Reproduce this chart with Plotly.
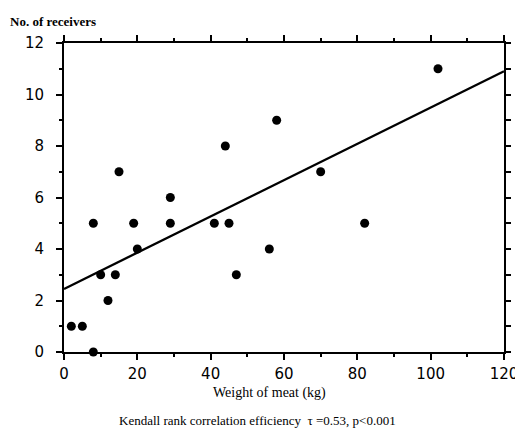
import plotly.graph_objects as go

# Data
meat_kg = [2, 5, 8, 8, 10, 12, 14, 15, 19, 20, 29, 29, 41, 44, 45, 47, 56, 58, 70, 82, 102]
receivers = [1, 1, 0, 5, 3, 2, 3, 7, 5, 4, 6, 5, 5, 8, 5, 3, 4, 9, 7, 5, 11]
fit_x = [0, 120]
fit_y = [2.45, 10.9]
x_ticks = [0, 20, 40, 60, 80, 100, 120]
x_minor = [0, 10, 20, 30, 40, 50, 60, 70, 80, 90, 100, 110, 120]
y_ticks = [0, 2, 4, 6, 8, 10, 12]
y_minor = [0, 1, 2, 3, 4, 5, 6, 7, 8, 9, 10, 11, 12]

fig = go.Figure()
fig.add_trace(go.Scatter(x=fit_x, y=fit_y, mode="lines",
                         line=dict(color="black", width=2.3), showlegend=False))
fig.add_trace(go.Scatter(x=meat_kg, y=receivers, mode="markers",
                         marker=dict(color="black", size=9), showlegend=False,
                         cliponaxis=False))
# invisible trace to anchor the mirrored tick axes (top/right)
fig.add_trace(go.Scatter(x=fit_x, y=fit_y, xaxis="x2", yaxis="y2", mode="lines",
                         line=dict(color="rgba(0,0,0,0)"), showlegend=False,
                         hoverinfo="skip"))

axis_common = dict(showgrid=False, zeroline=False, showline=True, linecolor="black",
                   linewidth=2, ticks="outside", tickcolor="black", tickwidth=2,
                   ticklen=6, automargin=False,
                   tickfont=dict(family="DejaVu Sans", size=15, color="black"))
minor_x = dict(tickvals=x_minor, ticks="outside", ticklen=3, tickcolor="black", tickwidth=2)
minor_y = dict(tickvals=y_minor, ticks="outside", ticklen=3, tickcolor="black", tickwidth=2)

fig.update_layout(
    xaxis=dict(range=[0, 120], tickvals=x_ticks, ticklabelstandoff=1, **axis_common,
               minor=minor_x),
    yaxis=dict(range=[0, 12], tickvals=y_ticks, ticklabelstandoff=9, **axis_common,
               minor=minor_y),
    xaxis2=dict(range=[0, 120], overlaying="x", side="top", anchor="y",
                tickvals=x_ticks, showticklabels=False, showgrid=False, zeroline=False,
                showline=True, linecolor="black", linewidth=2, ticks="outside",
                tickcolor="black", tickwidth=2, ticklen=6, minor=minor_x),
    yaxis2=dict(range=[0, 12], overlaying="y", side="right", anchor="x",
                tickvals=y_minor, showticklabels=False, showgrid=False, zeroline=False,
                showline=True, linecolor="black", linewidth=2, ticks="outside",
                tickcolor="black", tickwidth=2, ticklen=5),
)

fig.add_annotation(text="<b>No. of receivers</b>", xref="paper", yref="paper",
                   x=-0.128, y=1.04, xanchor="left", yanchor="bottom", showarrow=False,
                   font=dict(family="Liberation Serif", size=13, color="black"))
fig.add_annotation(text="Weight of meat (kg)", xref="paper", yref="paper",
                   x=0.468, y=-0.132, xanchor="center", yanchor="middle", showarrow=False,
                   font=dict(family="Liberation Serif", size=14, color="black"))
fig.add_annotation(text="Kendall rank correlation efficiency  \u03c4 =0.53, p<0.001",
                   xref="paper", yref="paper", x=0.44, y=-0.223, xanchor="center",
                   yanchor="middle", showarrow=False,
                   font=dict(family="Liberation Serif", size=13, color="black"))

# page body has an 8px default margin; size the figure to fit the 523x442 window
fig.update_layout(width=515, height=434, plot_bgcolor="white", paper_bgcolor="white",
                  margin=dict(l=56, r=19, t=35, b=90))
fig.write_html("out.html")
